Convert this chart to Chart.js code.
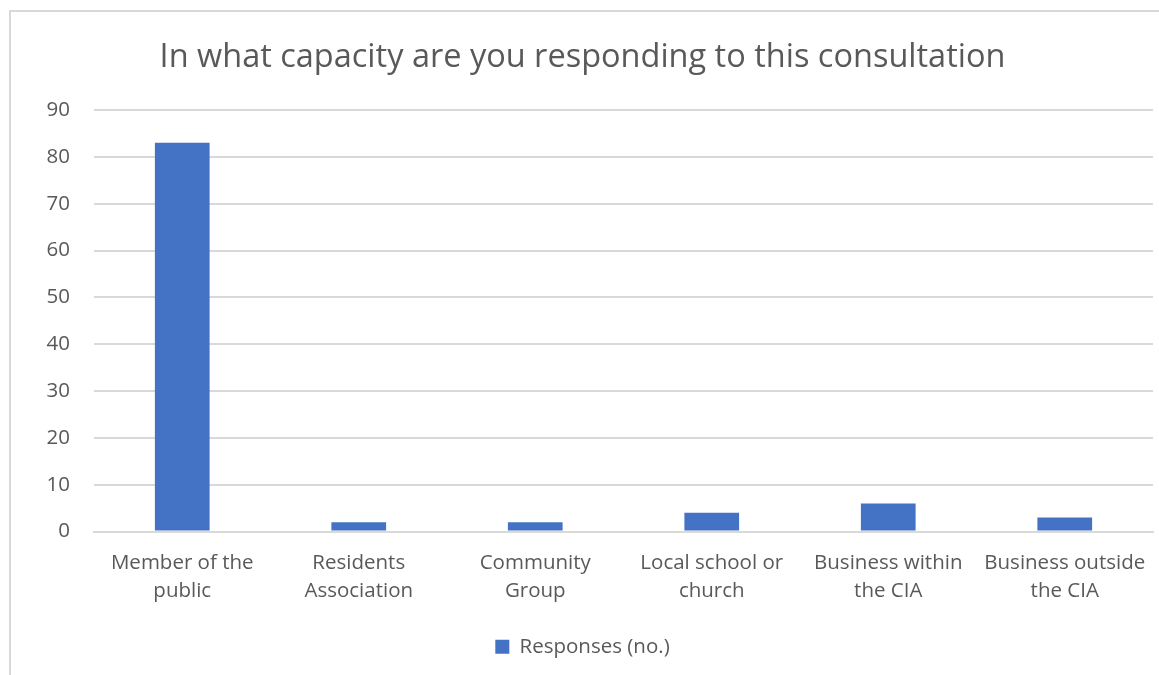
<!DOCTYPE html>
<html>
<head>
<meta charset="utf-8">
<script src="https://cdn.jsdelivr.net/npm/chart.js@4/dist/chart.umd.min.js"></script>
<style>
  html, body { margin: 0; padding: 0; background: #fff; overflow: hidden; }
  #marco { position: absolute; left: 9px; top: 10px; width: 1170px; height: 700px; border: 2px solid #d9d9d9; box-sizing: border-box; }
  #lienzo { position: absolute; left: 0; top: 0; width: 1159px; height: 675px; }
</style>
</head>
<body>
<div id="marco"></div>
<div id="lienzo"><canvas id="grafico"></canvas></div>
<script>
// datos
const categorias = [
  ["Member of the", "public"],
  ["Residents", "Association"],
  ["Community", "Group"],
  ["Local school or", "church"],
  ["Business within", "the CIA"],
  ["Business outside", "the CIA"]
];
const respuestas = [83, 2, 2, 4, 6, 3];
const ticksY = [0, 10, 20, 30, 40, 50, 60, 70, 80, 90];

const gris = '#595959';
const fuente = "'Open Sans', 'Noto Sans', sans-serif";

const ctx = document.getElementById("grafico").getContext("2d");
new Chart(ctx, {
  type: 'bar',
  data: {
    labels: categorias,
    datasets: [{
      label: "Responses (no.)",
      data: respuestas,
      backgroundColor: '#4472C4',
      borderWidth: 0,
      categoryPercentage: 1,
      barPercentage: 0.31
    }]
  },
  options: {
    responsive: true,
    maintainAspectRatio: false,
    animation: false,
    layout: { padding: { left: 12, right: 6, top: 0, bottom: 8 } },
    plugins: {
      title: {
        display: true,
        text: "In what capacity are you responding to this consultation",
        color: gris,
        font: { family: fuente, size: 32.5, weight: 'normal' },
        padding: { top: 38, bottom: 33 }
      },
      legend: {
        position: 'bottom',
        labels: {
          color: gris,
          font: { family: fuente, size: 20.5 },
          boxWidth: 14,
          boxHeight: 14,
          padding: 8
        }
      },
      tooltip: { enabled: false }
    },
    scales: {
      x: {
        grid: { display: false, drawTicks: false },
        border: { color: '#d9d9d9', width: 2 },
        ticks: {
          color: gris,
          font: { family: fuente, size: 20.5, lineHeight: 1.4 },
          padding: 17,
          maxRotation: 0,
          autoSkip: false
        },
        afterFit: (s) => { s.height = 97; s.paddingLeft = 0; s.paddingRight = 0; }
      },
      y: {
        min: 0,
        max: 90,
        afterBuildTicks: (s) => { s.ticks = ticksY.map(v => ({ value: v })); },
        grid: { color: '#d9d9d9', lineWidth: 2, drawTicks: false },
        border: { display: false },
        ticks: {
          color: gris,
          font: { family: fuente, size: 20.5 },
          padding: 24
        },
        afterFit: (s) => { s.width = 82; s.paddingTop = 0; s.paddingBottom = 0; }
      }
    }
  }
});
</script>
</body>
</html>
